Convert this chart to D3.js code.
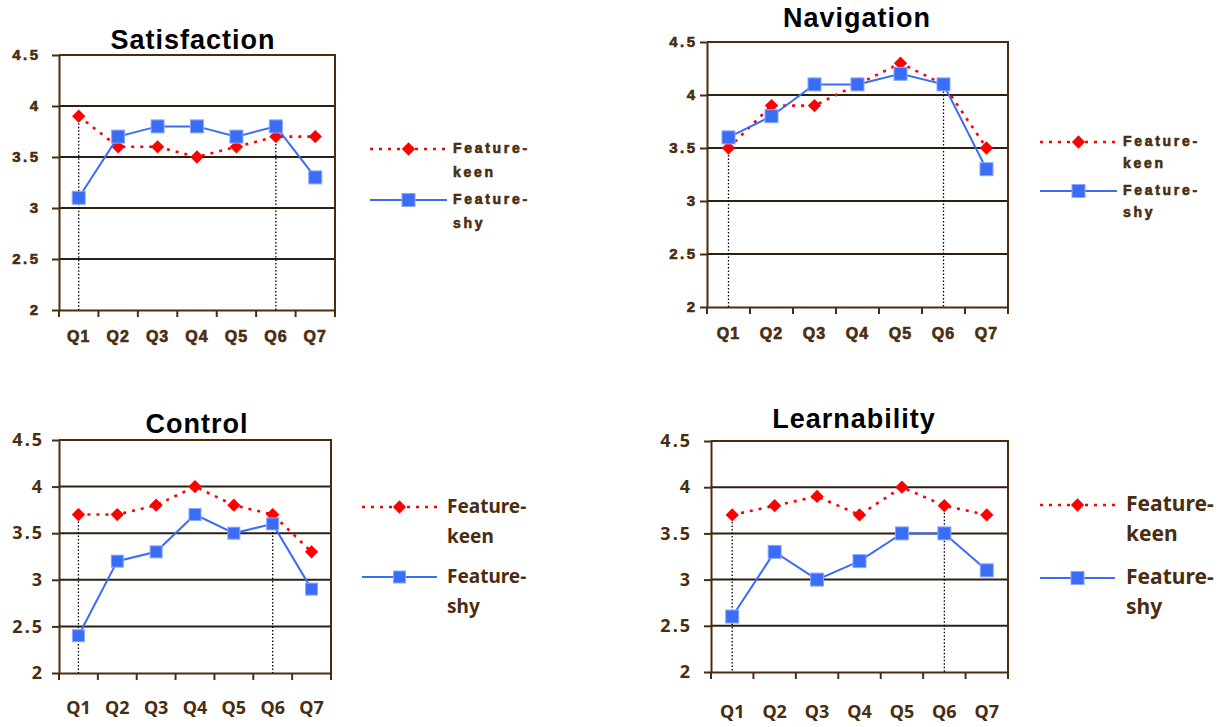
<!DOCTYPE html>
<html>
<head>
    <title>Feature-keen vs Feature-shy ratings</title>
    <script src="https://d3js.org/d3.v7.min.js"></script>
    <style>
        body { margin: 0; background: white; }
        svg { display: block; background: white; }
    </style>
</head>
<body>
    <svg width="1220" height="727"></svg>
    <script>
        // Data
        const questions = ["Q1", "Q2", "Q3", "Q4", "Q5", "Q6", "Q7"];
        const yTicks = [2, 2.5, 3, 3.5, 4, 4.5];
        const seriesNames = ["Feature-keen", "Feature-shy"];
        const markedQuestions = ["Q1", "Q6"];

        const satisfactionKeen = [3.9, 3.6, 3.6, 3.5, 3.6, 3.7, 3.7];
        const satisfactionShy  = [3.1, 3.7, 3.8, 3.8, 3.7, 3.8, 3.3];
        const navigationKeen   = [3.5, 3.9, 3.9, 4.1, 4.3, 4.1, 3.5];
        const navigationShy    = [3.6, 3.8, 4.1, 4.1, 4.2, 4.1, 3.3];
        const controlKeen      = [3.7, 3.7, 3.8, 4.0, 3.8, 3.7, 3.3];
        const controlShy       = [2.4, 3.2, 3.3, 3.7, 3.5, 3.6, 2.9];
        const learnKeen        = [3.7, 3.8, 3.9, 3.7, 4.0, 3.8, 3.7];
        const learnShy         = [2.6, 3.3, 3.0, 3.2, 3.5, 3.5, 3.1];

        // Two text styles: the top charts use Arial-like spaced text, the bottom ones a Tahoma-like face
        const topText = { family: "'Liberation Sans', Arial, sans-serif", tick: 15, tickSpacing: 2.5,
                          q: 16, qSpacing: 1, legend: 14, legendSpacing: 2.7, heavy: 0.6 };
        const bottomText = { family: "'Noto Sans', 'DejaVu Sans', sans-serif", tick: 18, tickSpacing: 2,
                             q: 18, qSpacing: 0, legend: 19, legendSpacing: 0, heavy: 0 };

        const layouts = [
            { left: 59, right: 335, top: 55, bottom: 310, titleX: 193, titleY: 49, tickEnd: 38, qY: 342,
              lx1: 370, lx2: 447, tx: 453, ly1: 149, ly2: 200, lineGap: 24, text: topText, marker: 13 },
            { left: 707, right: 1008, top: 42, bottom: 307, titleX: 857, titleY: 27, tickEnd: 695, qY: 339,
              lx1: 1040, lx2: 1117, tx: 1123, ly1: 142, ly2: 191, lineGap: 22, text: topText, marker: 13 },
            { left: 59, right: 331, top: 440, bottom: 673, titleX: 197, titleY: 433, tickEnd: 42, qY: 714,
              lx1: 362, lx2: 437, tx: 447, ly1: 507, ly2: 577, lineGap: 30, text: bottomText, marker: 12 },
            { left: 711, right: 1008, top: 441, bottom: 672, titleX: 854, titleY: 428, tickEnd: 690, qY: 718,
              lx1: 1040, lx2: 1115, tx: 1126, ly1: 505, ly2: 578, lineGap: 30,
              text: Object.assign({}, bottomText, { legend: 21 }), marker: 13 }
        ];

        const panels = [
            { title: "Satisfaction", keen: satisfactionKeen, shy: satisfactionShy },
            { title: "Navigation", keen: navigationKeen, shy: navigationShy },
            { title: "Control", keen: controlKeen, shy: controlShy },
            { title: "Learnability", keen: learnKeen, shy: learnShy }
        ];

        const brown = "#4a2d10";
        const gridColor = "#2e1f10";
        const red = "#ff0000";
        const blue = "#3a6df5";

        const svg = d3.select("svg");

        // shared look for the brown axis / legend text
        function brownText(sel, T, size, spacing) {
            sel.attr("fill", brown)
                .style("font-family", T.family)
                .style("font-size", size + "px")
                .style("font-weight", "bold")
                .style("letter-spacing", spacing + "px");
            if (T.heavy) sel.attr("stroke", brown).attr("stroke-width", T.heavy);
            return sel;
        }

        function drawPanel(p, L) {
            const T = L.text;
            const x = d3.scaleBand().domain(questions).range([L.left, L.right]);
            const y = d3.scaleLinear().domain([2, 4.5]).range([L.bottom, L.top]);
            const cx = q => x(q) + x.bandwidth() / 2;
            const g = svg.append("g");

            // horizontal gridlines
            g.selectAll(".grid")
                .data(yTicks.filter(t => t > 2 && t < 4.5))
                .join("line")
                .attr("x1", L.left).attr("x2", L.right)
                .attr("y1", d => y(d)).attr("y2", d => y(d))
                .attr("stroke", gridColor)
                .attr("stroke-width", 2);

            // top and right frame
            g.append("path")
                .attr("d", `M${L.left},${y(4.5)}H${L.right}V${y(2)}`)
                .attr("fill", "none")
                .attr("stroke", brown)
                .attr("stroke-width", 2);

            // y axis
            const yAxis = g.append("g")
                .attr("transform", `translate(${L.left},0)`)
                .call(d3.axisLeft(y).tickValues(yTicks).tickSize(7).tickSizeOuter(0)
                    .tickFormat(d => String(d)));
            yAxis.select(".domain").attr("stroke", brown).attr("stroke-width", 2);
            yAxis.selectAll(".tick line").attr("stroke", brown).attr("stroke-width", 2);
            brownText(yAxis.selectAll(".tick text"), T, T.tick, T.tickSpacing)
                .attr("x", L.tickEnd - L.left + T.tickSpacing);

            // x axis: labels at band centres, ticks at band edges
            const xAxis = g.append("g")
                .attr("transform", `translate(0,${L.bottom})`)
                .call(d3.axisBottom(x).tickSize(0).tickSizeOuter(0));
            xAxis.select(".domain").attr("stroke", brown).attr("stroke-width", 2);
            brownText(xAxis.selectAll(".tick text"), T, T.q, T.qSpacing)
                .attr("y", L.qY - L.bottom)
                .attr("dy", null);
            const edges = questions.map(q => x(q)).concat([x(questions[questions.length - 1]) + x.bandwidth()]);
            g.selectAll(".xtick")
                .data(edges)
                .join("line")
                .attr("x1", d => d).attr("x2", d => d)
                .attr("y1", L.bottom).attr("y2", L.bottom + 7)
                .attr("stroke", brown)
                .attr("stroke-width", 2);

            // dotted drop lines at marked questions
            g.selectAll(".drop")
                .data(markedQuestions)
                .join("line")
                .attr("x1", d => cx(d)).attr("x2", d => cx(d))
                .attr("y1", d => {
                    const i = questions.indexOf(d);
                    return y(Math.max(p.keen[i], p.shy[i]));
                })
                .attr("y2", L.bottom)
                .attr("stroke", "#000")
                .attr("stroke-width", 1.3)
                .attr("stroke-dasharray", "1.5,2");

            const line = d3.line().x((d, i) => cx(questions[i])).y(d => y(d));

            // Feature-keen: red dotted line with diamonds
            g.append("path")
                .datum(p.keen)
                .attr("d", line)
                .attr("fill", "none")
                .attr("stroke", red)
                .attr("stroke-width", 2.6)
                .attr("stroke-dasharray", "3,6");
            const diamond = d3.symbol(d3.symbolSquare, 88);
            g.selectAll(".keen")
                .data(p.keen)
                .join("path")
                .attr("d", diamond)
                .attr("transform", (d, i) => `translate(${cx(questions[i])},${y(d)}) rotate(45)`)
                .attr("fill", red);

            // Feature-shy: blue solid line with squares
            g.append("path")
                .datum(p.shy)
                .attr("d", line)
                .attr("fill", "none")
                .attr("stroke", blue)
                .attr("stroke-width", 2);
            const m = L.marker;
            g.selectAll(".shy")
                .data(p.shy)
                .join("rect")
                .attr("x", (d, i) => cx(questions[i]) - m / 2)
                .attr("y", d => y(d) - m / 2)
                .attr("width", m).attr("height", m)
                .attr("fill", blue)
                .attr("stroke", "#8aa6ff")
                .attr("stroke-width", 1);

            // title
            g.append("text")
                .attr("x", L.titleX)
                .attr("y", L.titleY)
                .attr("text-anchor", "middle")
                .style("font-family", "'Liberation Sans', Arial, sans-serif")
                .style("font-size", "27px")
                .style("font-weight", "bold")
                .style("letter-spacing", "1px")
                .attr("fill", "#000")
                .text(p.title);

            // legend
            const lmid = (L.lx1 + L.lx2) / 2;
            const legendRows = [
                { name: seriesNames[0], y: L.ly1, color: red, dash: "3,6", width: 2.6, kind: "diamond" },
                { name: seriesNames[1], y: L.ly2, color: blue, dash: null, width: 2, kind: "square" }
            ];
            legendRows.forEach(r => {
                g.append("line")
                    .attr("x1", L.lx1).attr("x2", L.lx2)
                    .attr("y1", r.y).attr("y2", r.y)
                    .attr("stroke", r.color)
                    .attr("stroke-width", r.width)
                    .attr("stroke-dasharray", r.dash);
                if (r.kind === "diamond") {
                    g.append("path")
                        .attr("d", diamond)
                        .attr("transform", `translate(${lmid},${r.y}) rotate(45)`)
                        .attr("fill", red);
                } else {
                    g.append("rect")
                        .attr("x", lmid - m / 2).attr("y", r.y - m / 2)
                        .attr("width", m).attr("height", m)
                        .attr("fill", blue)
                        .attr("stroke", "#8aa6ff")
                        .attr("stroke-width", 1);
                }
                const parts = r.name.split("-");
                const t = brownText(g.append("text"), T, T.legend, T.legendSpacing)
                    .attr("x", L.tx)
                    .attr("y", r.y + T.legend * 0.3);
                t.append("tspan").attr("x", L.tx).text(parts[0] + "-");
                t.append("tspan").attr("x", L.tx).attr("dy", L.lineGap).text(parts[1]);
            });
        }

        panels.forEach((p, i) => drawPanel(p, layouts[i]));
    </script>
</body>
</html>
